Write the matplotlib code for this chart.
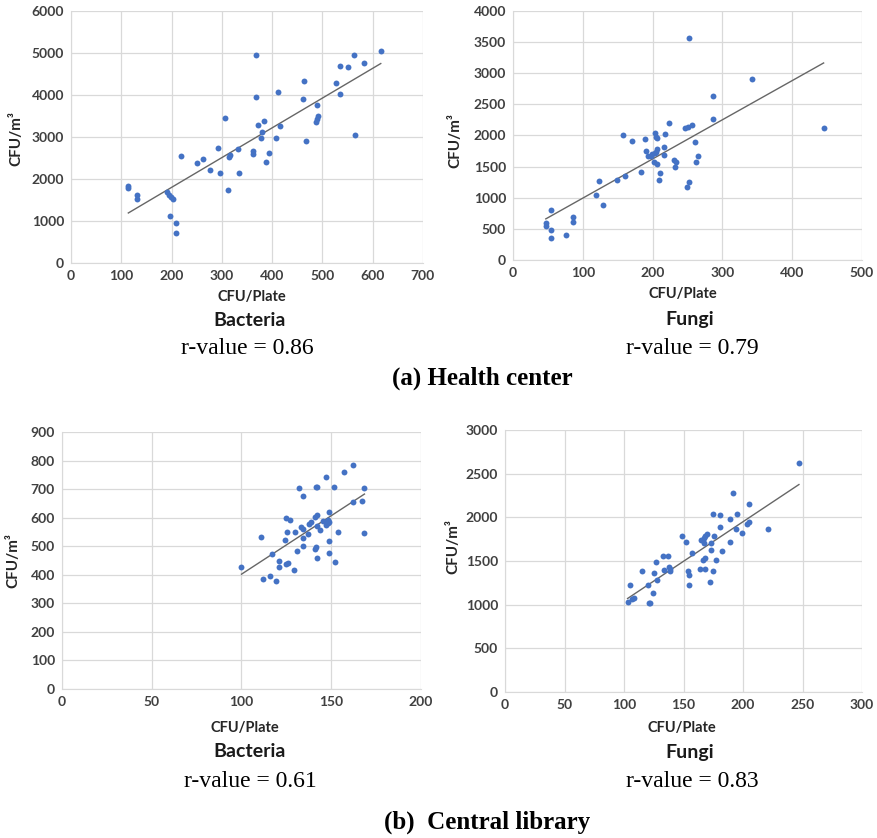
import numpy as np
import matplotlib
matplotlib.use("Agg")
import matplotlib.pyplot as plt

# (a) Health center - bacteria
hc_bac_x = [114, 114, 131, 131, 190, 194, 198, 202, 196, 209, 209, 218, 251, 262, 277, 293, 296,
            307, 313, 315, 317, 332, 334, 362, 362, 368, 368, 371, 380, 383, 378, 388, 393, 407,
            412, 415, 463, 461, 468, 488, 490, 490, 492, 526, 534, 534, 550, 562, 565, 583, 616]
hc_bac_y = [1840, 1777, 1610, 1522, 1690, 1618, 1562, 1522, 1116, 964, 717, 2542, 2382, 2486, 2223,
            2749, 2135, 3458, 1729, 2534, 2566, 2717, 2151, 2669, 2606, 4964, 3952, 3283, 3124, 3371,
            2988, 2414, 2614, 2988, 4072, 3251, 4327, 3904, 2908, 3363, 3426, 3761, 3506, 4287, 4701,
            4024, 4661, 4964, 3052, 4773, 5052]

# (a) Health center - fungi
hc_fun_x = [47, 47, 55, 55, 54, 76, 86, 86, 119, 123, 129, 149, 161, 158, 171, 183, 189, 190, 193,
            197, 199, 202, 203, 204, 205, 205, 206, 206, 207, 209, 210, 216, 217, 218, 223, 231, 234,
            232, 247, 251, 252, 252, 249, 257, 261, 262, 265, 286, 286, 343, 445]
hc_fun_y = [600, 546, 808, 482, 353, 401, 691, 605, 1044, 1269, 878, 1279, 1354, 2008, 1916, 1413,
            1949, 1750, 1670, 1670, 1697, 1579, 1713, 2034, 1740, 1981, 1777, 1954, 1536, 1279, 1392,
            1820, 1692, 2018, 2200, 1601, 1579, 1488, 2115, 2131, 3560, 1253, 1178, 2163, 1900, 1569,
            1665, 2639, 2270, 2902, 2115]

# (b) Central library - bacteria
cl_bac_x = [100, 111, 112, 116, 117, 119, 121, 121, 124, 125, 125.5, 125, 126, 127, 129, 130, 131,
            132, 133, 134, 134, 134, 134, 137, 137.5, 138.5, 141, 141.5, 141, 141.5, 142, 142, 142,
            142, 144, 145.5, 147, 147, 148, 148, 148.5, 148.5, 148.5, 149, 151.5, 152, 154, 157, 162,
            162, 167, 168, 168.5]
cl_bac_y = [427, 534, 385, 394, 474, 377, 449, 427, 523, 600, 551, 436, 441, 592, 415, 551, 482, 703,
            566, 561, 530, 677, 500, 543, 578, 585, 492, 499, 601, 706, 610, 708, 459, 570, 558, 589,
            741, 574, 582, 591, 621, 585, 517, 478, 708, 443, 551, 761, 786, 655, 659, 547, 703]

# (b) Central library - fungi
cl_fun_x = [103, 105, 107, 108, 115, 120, 121, 122, 124, 125, 127, 128, 133, 134, 137, 138, 139, 139,
            149, 152, 154, 155, 155, 157, 164, 165, 167, 167, 166, 168, 168, 168, 170, 172, 173, 173,
            175, 175, 176, 177, 181, 181, 182, 189, 189, 192, 194, 195, 199, 203, 205, 205, 221, 247]
cl_fun_y = [1028, 1223, 1070, 1078, 1383, 1230, 1024, 1024, 1131, 1357, 1483, 1284, 1559, 1402, 1555,
            1429, 1387, 1406, 1788, 1723, 1387, 1341, 1230, 1597, 1406, 1742, 1708, 1769, 1517, 1532,
            1414, 1781, 1804, 1261, 1704, 1628, 2040, 1391, 1784, 1509, 2029, 1888, 1612, 1979, 1712,
            2277, 1872, 2033, 1815, 1926, 2151, 1941, 1872, 2617]

W, H = 878, 838
fig = plt.figure(figsize=(W / 100, H / 100), dpi=100)

SANS = ["Lato", "DejaVu Sans"]
SERIF = ["Liberation Serif", "DejaVu Serif"]
DOT = "#4472c4"
GRID = "#d9d9d9"
TICK = "#404040"


def add_panel(box, xs, ys, xmax, xstep, ymax, ystep):
    l, r, t, b = box
    ax = fig.add_axes([l / W, 1 - b / H, (r - l) / W, (b - t) / H])
    ax.scatter(xs, ys, s=18, color=DOT, zorder=3, linewidths=0)
    # linear trend line, like Excel's
    k, c = np.polyfit(xs, ys, 1)
    xx = np.array([min(xs), max(xs)])
    ax.plot(xx, k * xx + c, color="#666666", lw=1.0, zorder=2)
    ax.set_xlim(0, xmax)
    ax.set_ylim(0, ymax)
    ax.set_xticks(np.arange(0, xmax + 1, xstep))
    ax.set_yticks(np.arange(0, ymax + 1, ystep))
    ax.grid(True, color=GRID, lw=0.9)
    ax.set_axisbelow(True)
    for s in ax.spines.values():
        s.set_visible(False)
    ax.spines["bottom"].set_visible(True)
    ax.spines["bottom"].set_color(GRID)
    ax.spines["left"].set_visible(True)
    ax.spines["left"].set_color(GRID)
    ax.tick_params(length=0, pad=5, labelsize=10, labelcolor=TICK)
    for lab in ax.get_xticklabels() + ax.get_yticklabels():
        lab.set_family(SANS)
        lab.set_fontweight("bold")
    return ax


def label(x, y, s, **kw):
    fig.text(x / W, 1 - y / H, s, ha="center", va="center", **kw)


add_panel((71, 423, 11, 263), hc_bac_x, hc_bac_y, 700, 100, 6000, 1000)
add_panel((513, 862, 11, 260), hc_fun_x, hc_fun_y, 500, 100, 4000, 500)
add_panel((62, 421, 432, 689), cl_bac_x, cl_bac_y, 200, 50, 900, 100)
add_panel((505, 862, 430, 692), cl_fun_x, cl_fun_y, 300, 50, 3000, 500)

# axis titles
for x, y in [(16, 138), (455, 140), (13, 560), (453, 547)]:
    label(x, y, "CFU/m³", rotation=90, family=SANS, fontweight="bold", fontsize=11, color="#262626")
for x, y in [(252, 297), (683, 294), (245, 728), (682, 728)]:
    label(x, y, "CFU/Plate", family=SANS, fontweight="bold", fontsize=10.5, color="#262626")

# panel names and r-values
for x, y, s in [(250, 320, "Bacteria"), (690, 320, "Fungi"), (250, 751, "Bacteria"), (690, 752, "Fungi")]:
    label(x, y, s, family=SANS, fontweight="bold", fontsize=14, color="#1a1a1a")
for x, y, s in [(247, 349, "r-value = 0.86"), (692, 348, "r-value = 0.79"),
                (250, 781, "r-value = 0.61"), (692, 781, "r-value = 0.83")]:
    label(x, y, s, family=SERIF, fontsize=17, color="black")

label(482, 378, "(a) Health center", family=SERIF, fontweight="bold", fontsize=18, color="black")
label(487, 822, "(b)  Central library", family=SERIF, fontweight="bold", fontsize=18, color="black")

fig.savefig("out.png", dpi=100)
